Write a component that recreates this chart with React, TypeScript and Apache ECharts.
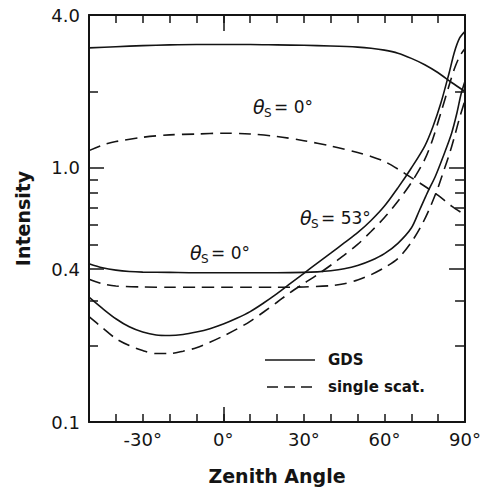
import React, { useEffect, useRef } from "react";
import * as echarts from "echarts";

// ---------- data ----------
const xLabelValues = [-30, 0, 30, 60, 90];
const xMinorTicks = [-40, -30, -20, -10, 0, 10, 20, 30, 40, 50, 60, 70, 80];
const xMajorTicks = [0];
const yLabelValues = [0.1, 0.4, 1, 4];
const yMajorTicks = [0.4, 1];
const yMinorTicks = [0.2, 0.3, 0.5, 0.6, 0.7, 0.8, 0.9, 2];

// GDS, theta_s = 0 (upper curve)
const gdsTopAngles = [-50, -40, -30, -20, -10, 0, 10, 20, 30, 40, 50, 55, 60, 65, 70, 75, 80, 85, 90];
const gdsTopValues = [2.97, 3.0, 3.03, 3.05, 3.06, 3.06, 3.06, 3.05, 3.04, 3.02, 2.99, 2.96, 2.91, 2.83, 2.7, 2.55, 2.37, 2.17, 2.0];

// single scattering, theta_s = 0 (upper curve)
const ssTopAngles = [-50, -45, -40, -30, -20, -10, 0, 10, 20, 30, 40, 50, 55, 60, 65, 70, 75, 80, 85, 90];
const ssTopValues = [1.17, 1.23, 1.27, 1.32, 1.35, 1.36, 1.37, 1.36, 1.33, 1.28, 1.22, 1.15, 1.11, 1.06, 0.99, 0.916, 0.847, 0.78, 0.708, 0.653];

// GDS, theta_s = 0 (lower curve)
const gdsLowAngles = [-50, -45, -40, -35, -30, -20, -10, 0, 10, 20, 30, 35, 40, 45, 50, 55, 60, 65, 70, 73, 76, 79, 82, 85, 87, 88.5, 90];
const gdsLowValues = [0.42, 0.405, 0.396, 0.391, 0.389, 0.388, 0.387, 0.387, 0.387, 0.387, 0.388, 0.39, 0.394, 0.401, 0.413, 0.432, 0.46, 0.505, 0.58, 0.68, 0.8, 0.93, 1.12, 1.37, 1.65, 1.95, 2.2];

// single scattering, theta_s = 0 (lower curve)
const ssLowAngles = [-50, -45, -40, -30, -20, -10, 0, 10, 20, 30, 40, 45, 50, 55, 60, 65, 70, 74, 77, 80, 82, 84, 86, 88, 90];
const ssLowValues = [0.365, 0.35, 0.343, 0.34, 0.339, 0.339, 0.339, 0.339, 0.339, 0.34, 0.344, 0.35, 0.362, 0.38, 0.405, 0.44, 0.51, 0.6, 0.7, 0.84, 0.97, 1.12, 1.32, 1.58, 1.85];

// GDS, theta_s = 53
const gds53Angles = [-50, -45, -40, -35, -30, -25, -20, -15, -10, -5, 0, 5, 10, 15, 20, 25, 30, 35, 40, 45, 50, 55, 60, 65, 70, 75, 78, 81, 84, 86, 88, 90];
const gds53Values = [0.31, 0.28, 0.255, 0.237, 0.226, 0.22, 0.219, 0.221, 0.226, 0.233, 0.243, 0.256, 0.272, 0.294, 0.32, 0.351, 0.385, 0.422, 0.462, 0.507, 0.556, 0.621, 0.708, 0.835, 1.0, 1.22, 1.45, 1.8, 2.35, 2.85, 3.25, 3.45];

// single scattering, theta_s = 53
const ss53Angles = [-50, -45, -40, -35, -30, -25, -20, -15, -10, -5, 0, 5, 10, 15, 20, 25, 30, 35, 40, 45, 50, 55, 60, 65, 70, 75, 78, 81, 84, 86, 88, 90];
const ss53Values = [0.26, 0.235, 0.213, 0.2, 0.191, 0.186, 0.186, 0.19, 0.196, 0.206, 0.218, 0.232, 0.249, 0.271, 0.296, 0.324, 0.351, 0.38, 0.414, 0.454, 0.5, 0.562, 0.638, 0.74, 0.875, 1.08, 1.3, 1.65, 2.1, 2.45, 2.75, 2.95];

const legendNames = ["GDS", "single scat."];
const xTitle = "Zenith Angle";
const yTitle = "Intensity";

// ---------- style ----------
const INK = "#141414";
const FONT = "'DejaVu Sans', 'Liberation Sans', sans-serif";
const DASH = [12, 7];

const pair = (a: number[], v: number[]) => a.map((x, i) => [x, v[i]]);

const lineSeries = (name: string, a: number[], v: number[], dashed: boolean) => ({
  type: "line",
  name,
  data: pair(a, v),
  xAxisIndex: 0,
  yAxisIndex: 0,
  symbol: "none",
  showSymbol: false,
  smooth: 0.3,
  silent: true,
  lineStyle: { color: INK, width: 1.6, type: dashed ? DASH : "solid" },
});

const thetaLabel = (x: number, y: number, val: string) => ({
  type: "group",
  x,
  y,
  silent: true,
  children: [
    { type: "text", x: 0, y: 0, style: { text: "θ", font: `italic 19px ${FONT}`, fill: INK, verticalAlign: "middle" } },
    { type: "text", x: 11, y: 6, style: { text: "S", font: `12px ${FONT}`, fill: INK, verticalAlign: "middle" } },
    { type: "text", x: 21, y: 0, style: { text: `= ${val}°`, font: `17px ${FONT}`, fill: INK, verticalAlign: "middle" } },
  ],
});

export default function App() {
  const ref = useRef<HTMLDivElement>(null);

  useEffect(() => {
    if (!ref.current) return;
    const chart = echarts.init(ref.current, null, { renderer: "svg" });

    const axisLine = { show: true, onZero: false, lineStyle: { color: INK, width: 2 } };
    const hidden = { show: false };
    const noLine = { show: false, onZero: false };
    const tickStyle = { color: INK, width: 1.5 };

    const xBase = { type: "value", min: -50, max: 90, splitLine: hidden };
    const yBase = { type: "log", logBase: 10, min: 0.1, max: 4, splitLine: hidden };

    chart.setOption({
      animation: false,
      backgroundColor: "#ffffff",
      grid: { left: 89, top: 15, right: 13, bottom: 67, containLabel: false },
      xAxis: [
        {
          ...xBase,
          position: "bottom",
          axisLine,
          axisTick: { show: true, inside: true, length: 8, customValues: xMinorTicks, lineStyle: tickStyle },
          axisLabel: {
            customValues: xLabelValues,
            formatter: (v: number) => `${v}°`,
            margin: 8,
            color: INK,
            fontFamily: FONT,
            fontSize: 18,
          },
          name: xTitle,
          nameLocation: "middle",
          nameGap: 44,
          nameTextStyle: { color: INK, fontFamily: FONT, fontSize: 19, fontWeight: "bold" },
        },
        {
          ...xBase,
          position: "bottom",
          axisLine: noLine,
          axisTick: { show: true, inside: true, length: 15, customValues: xMajorTicks, lineStyle: tickStyle },
          axisLabel: hidden,
        },
        {
          ...xBase,
          position: "top",
          axisLine,
          axisTick: { show: true, inside: true, length: 8, customValues: xMinorTicks, lineStyle: tickStyle },
          axisLabel: hidden,
        },
        {
          ...xBase,
          position: "top",
          axisLine: noLine,
          axisTick: { show: true, inside: true, length: 16, customValues: xMajorTicks, lineStyle: tickStyle },
          axisLabel: hidden,
        },
      ],
      yAxis: [
        {
          ...yBase,
          position: "left",
          axisLine,
          axisTick: { show: true, inside: true, length: 15, customValues: yMajorTicks, lineStyle: tickStyle },
          axisLabel: {
            customValues: yLabelValues,
            formatter: (v: number) => v.toFixed(1),
            margin: 9,
            color: INK,
            fontFamily: FONT,
            fontSize: 18,
          },
          name: yTitle,
          nameLocation: "middle",
          nameGap: 57,
          nameTextStyle: { color: INK, fontFamily: FONT, fontSize: 19, fontWeight: "bold" },
        },
        {
          ...yBase,
          position: "left",
          axisLine: noLine,
          axisTick: { show: true, inside: true, length: 9, customValues: yMinorTicks, lineStyle: tickStyle },
          axisLabel: hidden,
        },
        {
          ...yBase,
          position: "right",
          axisLine,
          axisTick: { show: true, inside: true, length: 16, customValues: yMajorTicks, lineStyle: tickStyle },
          axisLabel: hidden,
        },
        {
          ...yBase,
          position: "right",
          axisLine: noLine,
          axisTick: { show: true, inside: true, length: 10, customValues: yMinorTicks, lineStyle: tickStyle },
          axisLabel: hidden,
        },
      ],
      series: [
        lineSeries(legendNames[0], gdsTopAngles, gdsTopValues, false),
        lineSeries(legendNames[1], ssTopAngles, ssTopValues, true),
        lineSeries(legendNames[0], gdsLowAngles, gdsLowValues, false),
        lineSeries(legendNames[1], ssLowAngles, ssLowValues, true),
        lineSeries(legendNames[0], gds53Angles, gds53Values, false),
        lineSeries(legendNames[1], ss53Angles, ss53Values, true),
      ],
      graphic: [
        thetaLabel(253, 107, "0"),
        thetaLabel(300, 218, "53"),
        thetaLabel(190, 253, "0"),
        {
          type: "line",
          silent: true,
          shape: { x1: 265, y1: 360, x2: 315, y2: 360 },
          style: { stroke: INK, lineWidth: 1.6 },
        },
        {
          type: "line",
          silent: true,
          shape: { x1: 267, y1: 387, x2: 318, y2: 387 },
          style: { stroke: INK, lineWidth: 1.6, lineDash: [11, 6] },
        },
        {
          type: "text",
          x: 328,
          y: 360,
          silent: true,
          style: { text: legendNames[0], font: `bold 15px ${FONT}`, fill: INK, verticalAlign: "middle" },
        },
        {
          type: "text",
          x: 328,
          y: 387,
          silent: true,
          style: { text: legendNames[1], font: `bold 15px ${FONT}`, fill: INK, verticalAlign: "middle" },
        },
      ],
    });

    return () => chart.dispose();
  }, []);

  return (
    <div
      ref={ref}
      style={{ position: "absolute", left: 0, top: 0, width: 484, height: 490, background: "#fff" }}
    />
  );
}
